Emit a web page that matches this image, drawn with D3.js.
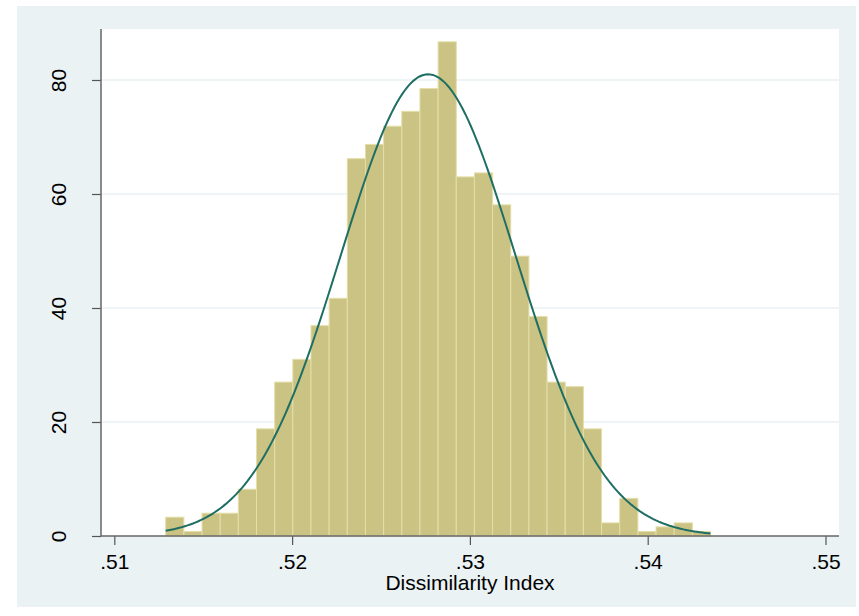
<!DOCTYPE html>
<html>
<head>
<meta charset="utf-8">
<script src="https://cdn.jsdelivr.net/npm/d3@7"></script>
<style>
 body { margin: 0; background: #fff; }
 svg text { font-family: "Liberation Sans", Arial, sans-serif; fill: #000; }
</style>
</head>
<body>
<svg id="chart" width="859" height="616"></svg>
<script>
 // histogram: 30 bins, heights (density)
 const binStart = 0.512891;
 const binWidth = 0.0010214;
 const density = [3.3, 0.8, 4.0, 4.0, 8.2, 18.8, 27.0, 31.0, 36.9, 41.7,
                  66.2, 68.7, 71.9, 74.5, 78.5, 86.7, 63.0, 63.7, 58.1, 49.1,
                  38.5, 27.0, 26.2, 18.8, 2.3, 6.6, 0.8, 1.6, 2.3, 0.8];

 // fitted normal overlay
 const normMean = 0.52765;
 const normSd = 0.004925;

 const xTicks = [0.51, 0.52, 0.53, 0.54, 0.55];
 const xTickLabels = ['.51', '.52', '.53', '.54', '.55'];
 const yTicks = [0, 20, 40, 60, 80];
 const xTitle = 'Dissimilarity Index';

 const plot = { left: 101, right: 839, top: 29, bottom: 536 };

 const svg = d3.select('#chart');

 svg.append('rect')
    .attr('x', 17).attr('y', 6)
    .attr('width', 839).attr('height', 601)
    .attr('fill', '#eaf2f3');

 svg.append('rect')
    .attr('x', plot.left).attr('y', plot.top)
    .attr('width', plot.right - plot.left).attr('height', plot.bottom - plot.top)
    .attr('fill', '#fff');

 const x = d3.scaleLinear().domain([0.51, 0.55]).range([114.3, 825.5]);
 const y = d3.scaleLinear().domain([0, 80]).range([plot.bottom, 80]);

 // gridlines
 svg.append('g')
    .selectAll('line')
    .data(yTicks.filter(d => d > 0))
    .enter()
    .append('line')
    .attr('x1', plot.left).attr('x2', plot.right)
    .attr('y1', d => y(d)).attr('y2', d => y(d))
    .attr('stroke', '#eaf2f3')
    .attr('stroke-width', 1.5);

 // bars
 svg.append('g')
    .selectAll('rect')
    .data(density)
    .enter()
    .append('rect')
    .attr('x', (d, i) => x(binStart + i * binWidth))
    .attr('width', (d, i) => x(binStart + (i + 1) * binWidth) - x(binStart + i * binWidth))
    .attr('y', d => y(d))
    .attr('height', d => y(0) - y(d))
    .attr('fill', '#cbc383')
    .attr('stroke', '#e4dea9')
    .attr('stroke-width', 1);

 // normal density curve
 const pdf = v => Math.exp(-0.5 * Math.pow((v - normMean) / normSd, 2)) / (normSd * Math.sqrt(2 * Math.PI));
 const lo = binStart, hi = binStart + density.length * binWidth;
 const curve = d3.range(0, 201).map(i => lo + (hi - lo) * i / 200);

 svg.append('path')
    .datum(curve)
    .attr('fill', 'none')
    .attr('stroke', '#1f6e63')
    .attr('stroke-width', 2)
    .attr('d', d3.line().x(d => x(d)).y(d => y(pdf(d))));

 // axes
 const xAxis = svg.append('g')
    .attr('transform', `translate(0,${plot.bottom})`)
    .call(d3.axisBottom(x).tickValues(xTicks).tickFormat((d, i) => xTickLabels[i]).tickSize(9).tickPadding(0));
 xAxis.select('.domain').remove();
 xAxis.selectAll('.tick line').attr('stroke', '#555').attr('stroke-width', 1.2);
 xAxis.selectAll('.tick text')
      .attr('y', 33).attr('dy', null)
      .attr('font-size', 21).attr('font-family', '"Liberation Sans", Arial, sans-serif');

 const yAxis = svg.append('g')
    .attr('transform', `translate(${plot.left},0)`)
    .call(d3.axisLeft(y).tickValues(yTicks).tickSize(9).tickPadding(0));
 yAxis.select('.domain').remove();
 yAxis.selectAll('.tick line').attr('stroke', '#555').attr('stroke-width', 1.2);
 yAxis.selectAll('.tick text')
      .attr('x', null).attr('dy', null)
      .attr('transform', 'translate(-35,0) rotate(-90)')
      .attr('text-anchor', 'middle')
      .attr('font-size', 21).attr('font-family', '"Liberation Sans", Arial, sans-serif');

 svg.append('line')
    .attr('x1', plot.left).attr('x2', plot.left)
    .attr('y1', plot.top).attr('y2', plot.bottom)
    .attr('stroke', '#666').attr('stroke-width', 1.5);
 svg.append('line')
    .attr('x1', plot.left).attr('x2', plot.right)
    .attr('y1', plot.bottom).attr('y2', plot.bottom)
    .attr('stroke', '#666').attr('stroke-width', 1.5);

 svg.append('text')
    .attr('x', (plot.left + plot.right) / 2)
    .attr('y', 590)
    .attr('text-anchor', 'middle')
    .attr('font-size', 21)
    .text(xTitle);
</script>
</body>
</html>
